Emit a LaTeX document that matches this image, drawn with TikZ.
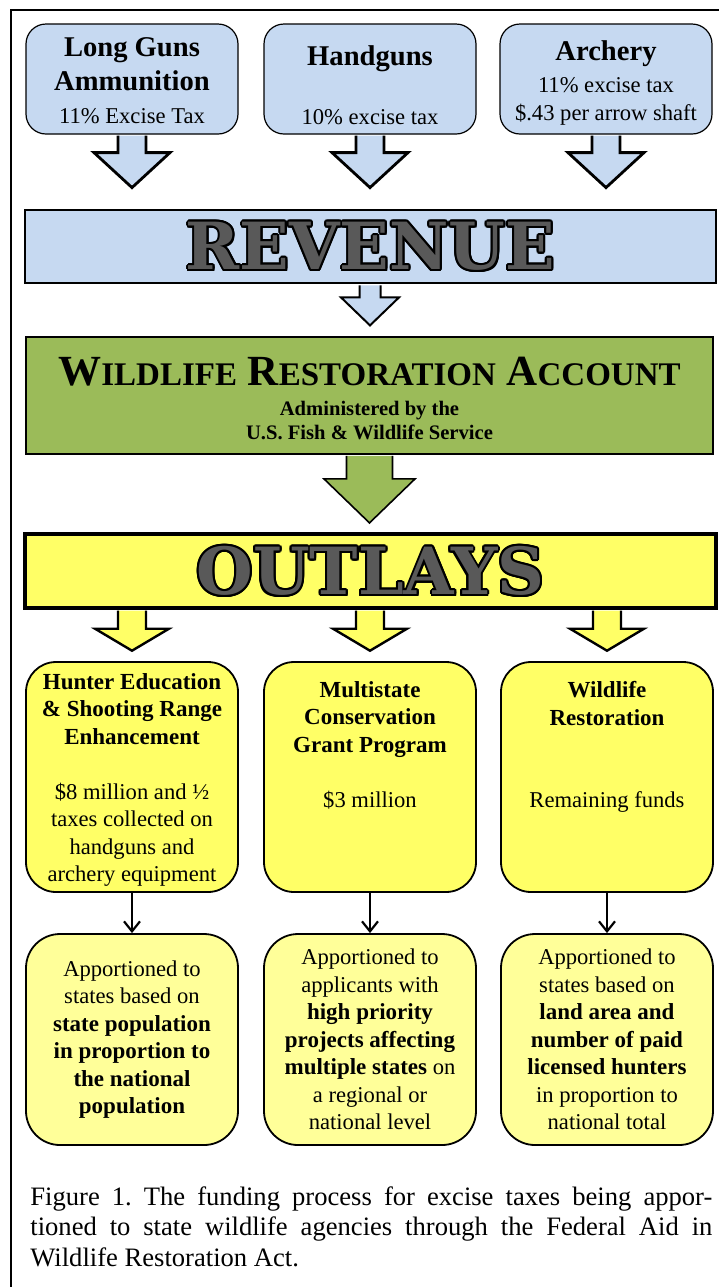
\documentclass[tikz,border=0pt]{standalone}
\usepackage{fontspec}
\setmainfont{Liberation Serif}
\newfontfamily\slabfont{DejaVu Serif}
\usetikzlibrary{positioning,calc,arrows.meta}
\frenchspacing

\definecolor{paleblue}{HTML}{C6D9F1}
\definecolor{acctgreen}{HTML}{9BBB59}
\definecolor{outyellow}{HTML}{FFFF66}
\definecolor{paleyellow}{HTML}{FFFF99}
\definecolor{bannergray}{HTML}{595959}

\newcommand{\titlefont}{\fontsize{14.3}{17}\selectfont\bfseries}
\newcommand{\headfont}{\fontsize{11.5}{13.75}\selectfont\bfseries}
\newcommand{\boxfont}{\fontsize{11.3}{13.75}\selectfont}
\newcommand{\bannerfont}{\slabfont\bfseries\fontsize{32.5}{33}\selectfont}
\newcommand{\capword}[2]{#1{\fontsize{16.5}{24}\selectfont#2}}

% grey letters with a black rim
\newcommand{\outlined}[1]{%
  \leavevmode\rlap{\color{black}\foreach \ang in {0,22.5,...,337.5}{%
    \rlap{\kern\fpeval{1.0*cosd(\ang)}pt\raisebox{\fpeval{1.0*sind(\ang)}pt}{#1}}}}%
  \textcolor{bannergray}{#1}}

% block arrow hanging below a node: style, start, shaft half, head half, shaft length, head length
\newcommand{\fatarrow}[6]{%
  \draw[#1] ($(#2)+(-#3,1)$) -- ++(0,#5) -- ++(#3-#4,0) -- ++(#4,#6)
    -- ++(#4,-#6) -- ++(#3-#4,0) -- ++(0,-#5);}

\begin{document}
\begin{tikzpicture}[x=0.5pt,y=-0.5pt]

\tikzset{sourcebox/.style = {rectangle,rounded corners=10pt,draw,line width=0.6pt,fill=paleblue,
  minimum width=106pt,minimum height=55pt,inner sep=0pt}}
\tikzset{banner/.style = {rectangle,draw,minimum width=345.5pt,inner sep=0pt}}
\tikzset{outlaybox/.style = {rectangle,rounded corners=15pt,draw,line width=0.9pt,fill=outyellow,
  minimum width=106pt,minimum height=115pt,inner sep=0pt}}
\tikzset{sharebox/.style = {rectangle,rounded corners=17pt,draw,line width=0.9pt,fill=paleyellow,
  minimum width=106pt,minimum height=105.5pt,inner sep=0pt}}
\tikzset{boxtext/.style = {align=center,inner sep=0pt,font=\boxfont}}
\tikzset{blockarrow/.style = {draw,line join=miter}}
\tikzset{pointer/.style = {->,>={Straight Barb[length=5pt,width=8pt]},line width=1.1pt}}

\useasboundingbox (0,0) rectangle (719,1287);

%frame
\draw[line width=1pt] (11,1287) -- (11,10) -- (719,10);

%sources
\node[sourcebox] (longguns) at (132,79) {};
\node[sourcebox] (handguns) at (370,79) {};
\node[sourcebox] (archery) at (606,79) {};
\node[boxtext, below=7pt of longguns.north] (longgunstext)
  {{\titlefont Long Guns}\\[3.25pt]{\titlefont Ammunition}\\[2.75pt]11\% Excise Tax};
\node[boxtext, below=11pt of handguns.north] (handgunstext)
  {{\titlefont Handguns}\\[15.75pt]10\% excise tax};
\node[boxtext, below=8.5pt of archery.north] (archerytext)
  {{\titlefont Archery}\\[2.25pt]11\% excise tax\\\$.43 per arrow shaft};

%revenue and account
\node[banner, fill=paleblue, line width=1.4pt, minimum height=36.5pt] (revenue) at (370.5,246.5)
  {\bannerfont\outlined{REVENUE}};
\node[banner, fill=acctgreen, line width=0.9pt, minimum width=343.5pt, minimum height=58.5pt]
  (account) at (369.5,395.5) {};
\node[boxtext, font=\fontsize{10.3}{12}\selectfont\bfseries, below=10.5pt of account.north] (accounttext)
  {{\fontsize{21.5}{24}\selectfont\capword{W}{ILDLIFE} \capword{R}{ESTORATION} \capword{A}{CCOUNT}}\\[2.75pt]
   Administered by the\\U.S. Fish \& Wildlife Service};
\node[banner, fill=outyellow, line width=1.7pt, minimum height=37pt] (outlays) at (370.5,571)
  {\bannerfont\outlined{OUTLAYS}};

%outlays
\node[outlaybox] (hunt) at (132,777) {};
\node[outlaybox] (multi) at (370,777) {};
\node[outlaybox] (wild) at (607,777) {};
\node[boxtext, below=6pt of hunt.north] (hunttext)
  {{\headfont Hunter Education}\\{\headfont \& Shooting Range}\\{\headfont Enhancement}\\[13.75pt]
   \$8 million and ½\\taxes collected on\\handguns and\\archery equipment};
\node[boxtext, below=10pt of multi.north] (multitext)
  {{\headfont Multistate}\\{\headfont Conservation}\\{\headfont Grant Program}\\[13.75pt]\$3 million};
\node[boxtext, below=10pt of wild.north] (wildtext)
  {{\headfont Wildlife}\\{\headfont Restoration}\\[27.25pt]Remaining funds};

%apportionment
\node[sharebox] (huntshare) at (132,1039.5) {};
\node[sharebox] (multishare) at (370,1039.5) {};
\node[sharebox] (wildshare) at (607,1039.5) {};
\node[boxtext] (huntsharetext) at (huntshare)
  {Apportioned to\\states based on\\{\headfont state population}\\{\headfont in proportion to}\\
   {\headfont the national}\\{\headfont population}};
\node[boxtext] (multisharetext) at (multishare)
  {Apportioned to\\applicants with\\{\headfont high priority}\\{\headfont projects affecting}\\
   {\headfont multiple states} on\\a regional or\\national level};
\node[boxtext] (wildsharetext) at (wildshare)
  {Apportioned to\\states based on\\{\headfont land area and}\\{\headfont number of paid}\\
   {\headfont licensed hunters}\\in proportion to\\national total};

%block arrows
\fatarrow{blockarrow, fill=paleblue, line width=1.4pt}{longguns.south}{14}{38}{17}{35}
\fatarrow{blockarrow, fill=paleblue, line width=1.4pt}{handguns.south}{14}{38}{17}{35}
\fatarrow{blockarrow, fill=paleblue, line width=1.4pt}{archery.south}{14}{38}{17}{35}
\fatarrow{blockarrow, fill=paleblue, line width=1pt}{revenue.south -| handguns}{10.5}{29}{12}{28}
\fatarrow{blockarrow, fill=acctgreen, line width=0.8pt}{account.south}{23}{45.5}{23}{44}
\fatarrow{blockarrow, fill=outyellow, line width=1.2pt}{outlays.south -| hunt}{14}{37}{18}{22}
\fatarrow{blockarrow, fill=outyellow, line width=1.2pt}{outlays.south -| multi}{14}{37}{18}{22}
\fatarrow{blockarrow, fill=outyellow, line width=1.2pt}{outlays.south -| wild}{14}{37}{18}{22}

%thin arrows
\draw[pointer] (hunt) to (huntshare);
\draw[pointer] (multi) to (multishare);
\draw[pointer] (wild) to (wildshare);

%caption
\node[anchor=north west, text width=341pt, align=justify, inner sep=0pt,
  font=\fontsize{13.3}{15.25}\selectfont] (caption) at (30,1186)
  {Figure 1. The funding process for excise taxes being appor-\linebreak
   tioned to state wildlife agencies through the Federal Aid in\linebreak
   Wildlife Restoration Act.};

\end{tikzpicture}
\end{document}
